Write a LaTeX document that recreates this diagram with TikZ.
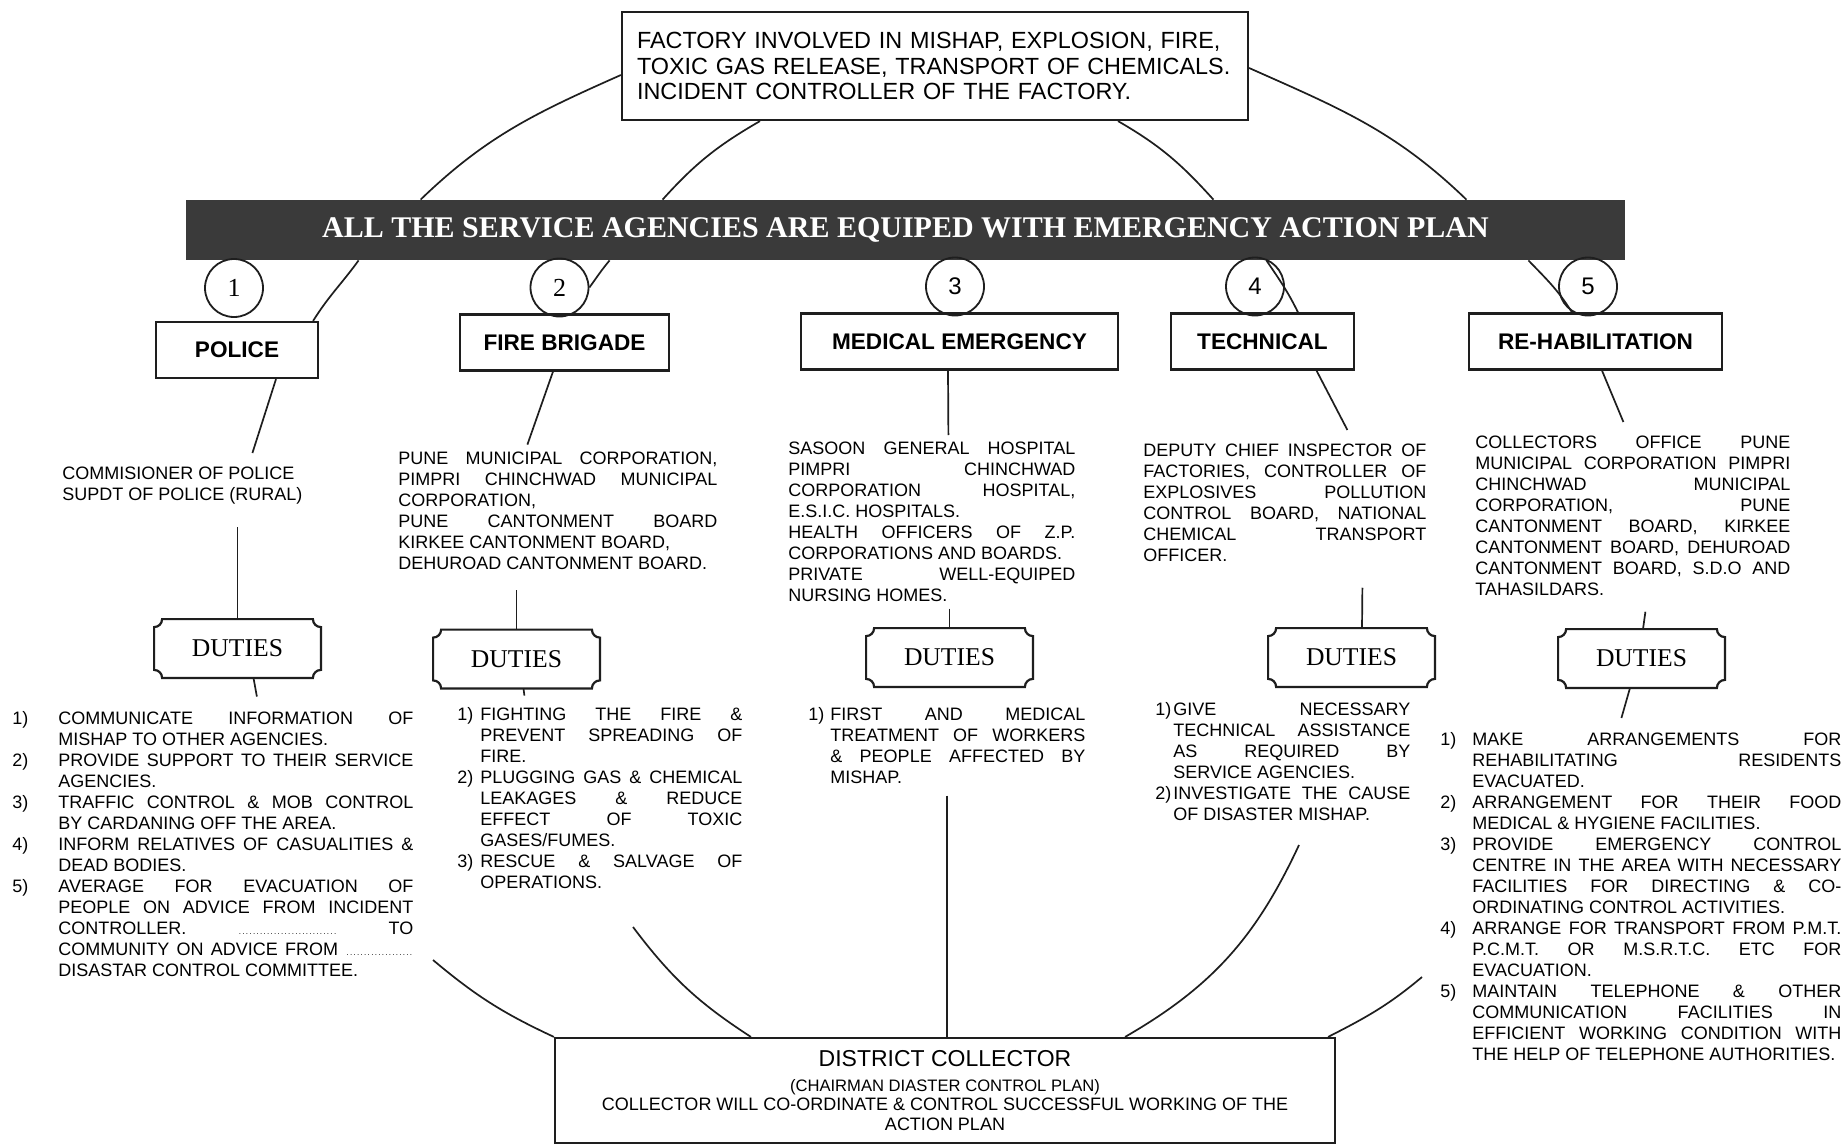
\documentclass[tikz,border=0pt]{standalone}
\usepackage{fontspec}
\setmainfont{Liberation Serif}
\setsansfont{Liberation Sans}
\usepackage{xcolor}
\definecolor{bannergray}{HTML}{3A3A3A}
\definecolor{inkgray}{HTML}{1E1E1E}
\usepackage{tikz}
\usetikzlibrary{positioning}

\newcommand{\listfont}{\sffamily\fontsize{9}{10.5}\selectfont\frenchspacing\hyphenpenalty=10000\exhyphenpenalty=10000 }
\newcommand{\dutyitem}[2]{\par\hangindent=#1\hangafter=1\noindent\makebox[#1][l]{#2}\ignorespaces}
\newcommand{\dotrun}[1]{\makebox[#1]{\fontsize{4}{4}\selectfont\dotfill}}

\begin{document}
\begin{tikzpicture}[
  x=0.5pt, y=0.5pt,
  font=\sffamily,
  link/.style={draw=inkgray, line width=0.85pt},
  box/.style={draw=inkgray, line width=1.1pt, fill=white, align=center, inner sep=0pt},
  headbox/.style={box, minimum height=28pt, font=\sffamily\bfseries\fontsize{11.3}{13}\selectfont},
  numcirc/.style={circle, draw=inkgray, line width=0.9pt, minimum size=29pt, inner sep=0pt,
                  font=\rmfamily\fontsize{13}{13}\selectfont},
  dutybox/.style={minimum width=83pt, minimum height=29pt, inner sep=0pt,
                  font=\rmfamily\fontsize{12.8}{14}\selectfont},
  plaque/.style={draw=inkgray, line width=1.1pt},
  txt/.style={anchor=north west, inner sep=0pt, align=left, font=\listfont}
]
\path[use as bounding box, fill=white] (0,0) rectangle (1847,-1145);

% top and banner
\node[box, text width=298pt, align=left, inner xsep=7.5pt, minimum height=54pt,
      font=\sffamily\fontsize{11.7}{12.75}\selectfont] (factory) at (935,-66)
  {FACTORY INVOLVED IN MISHAP, EXPLOSION, FIRE,\\ TOXIC GAS RELEASE, TRANSPORT OF CHEMICALS.\\ INCIDENT CONTROLLER OF THE FACTORY.};
\node[fill=bannergray, minimum width=719.5pt, minimum height=30pt, inner sep=0pt, text=white,
      font=\rmfamily\bfseries\fontsize{15}{18}\selectfont] (banner) at (905.5,-230)
  {ALL THE SERVICE AGENCIES ARE EQUIPED WITH EMERGENCY ACTION PLAN};

% agencies
\node[headbox, minimum width=81pt]    (police)    at (237,-350)    {POLICE};
\node[headbox, minimum width=104.5pt] (fire)      at (564.5,-342.5) {FIRE BRIGADE};
\node[headbox, minimum width=158.5pt] (medical)   at (959.5,-341.5) {MEDICAL EMERGENCY};
\node[headbox, minimum width=91.5pt]  (technical) at (1262.5,-341.5) {TECHNICAL};
\node[headbox, minimum width=126.5pt] (rehab)     at (1595.5,-341.5) {RE-HABILITATION};

\node[numcirc, above=1.5pt of police, xshift=-1.5pt]   (c1) {1};
\node[numcirc, above=-2pt of fire, xshift=-2.5pt]      (c2) {2};
\node[numcirc, above=-2pt of medical, xshift=-2.25pt, font=\sffamily\fontsize{12}{12}\selectfont] (c3) {3};
\node[numcirc, above=-2pt of technical, xshift=-3.75pt, font=\sffamily\fontsize{12}{12}\selectfont] (c4) {4};
\node[numcirc, above=-2pt of rehab, xshift=-3.75pt, font=\sffamily\fontsize{12}{12}\selectfont] (c5) {5};

% who is called
\node[txt] (policeorg) at (62,-467) {COMMISIONER OF POLICE\\SUPDT OF POLICE (RURAL)};
\node[txt] (fireorg) at (398,-451.6) {\parbox[t]{159.5pt}{PUNE MUNICIPAL CORPORATION,\linebreak
  PIMPRI CHINCHWAD MUNICIPAL\linebreak CORPORATION,\par PUNE CANTONMENT BOARD\linebreak
  KIRKEE CANTONMENT BOARD,\par DEHUROAD CANTONMENT BOARD.}};
\node[txt] (medorg) at (788,-441.6) {\parbox[t]{143.5pt}{SASOON GENERAL HOSPITAL\linebreak
  PIMPRI CHINCHWAD\linebreak CORPORATION HOSPITAL,\linebreak E.S.I.C. HOSPITALS.\par
  HEALTH OFFICERS OF Z.P.\linebreak CORPORATIONS AND BOARDS.\par
  PRIVATE WELL-EQUIPED\linebreak NURSING HOMES.}};
\node[txt] (techorg) at (1143,-443.6) {\parbox[t]{141.5pt}{DEPUTY CHIEF INSPECTOR OF\linebreak
  FACTORIES, CONTROLLER OF\linebreak EXPLOSIVES POLLUTION\linebreak CONTROL BOARD, NATIONAL\linebreak
  CHEMICAL TRANSPORT\linebreak OFFICER.}};
\node[txt] (rehaborg) at (1475,-435.6) {\parbox[t]{157.5pt}{COLLECTORS OFFICE PUNE\linebreak
  MUNICIPAL CORPORATION PIMPRI\linebreak CHINCHWAD MUNICIPAL\linebreak CORPORATION, PUNE\linebreak
  CANTONMENT BOARD, KIRKEE\linebreak CANTONMENT BOARD, DEHUROAD\linebreak
  CANTONMENT BOARD, S.D.O AND\linebreak TAHASILDARS.}};

% duties
\node[dutybox] (dpolice) at (237.5,-648.5) {DUTIES};
\node[dutybox] (dfire)   at (516.5,-659)   {DUTIES};
\node[dutybox] (dmed)    at (949.5,-657.5) {DUTIES};
\node[dutybox] (dtech)   at (1351.5,-657.5) {DUTIES};
\node[dutybox] (drehab)  at (1641.5,-658.5) {DUTIES};
\foreach \duty in {dpolice,dfire,dmed,dtech,drehab}{
  \draw[plaque] ([xshift=4pt]\duty.north west) -- ([xshift=-4pt]\duty.north east)
    arc[start angle=180, end angle=270, radius=4pt] -- ([yshift=4pt]\duty.south east)
    arc[start angle=90, end angle=180, radius=4pt] -- ([xshift=4pt]\duty.south west)
    arc[start angle=0, end angle=90, radius=4pt] -- ([yshift=-4pt]\duty.north west)
    arc[start angle=270, end angle=360, radius=4pt] -- cycle;
}

\node[txt] (lpolice) at (12,-710.6) {\parbox[t]{200.5pt}{%
  \dutyitem{23pt}{1)}COMMUNICATE INFORMATION OF\linebreak MISHAP TO OTHER AGENCIES.
  \dutyitem{23pt}{2)}PROVIDE SUPPORT TO THEIR SERVICE\linebreak AGENCIES.
  \dutyitem{23pt}{3)}TRAFFIC CONTROL \& MOB CONTROL\linebreak BY CARDANING OFF THE AREA.
  \dutyitem{23pt}{4)}INFORM RELATIVES OF CASUALITIES \&\linebreak DEAD BODIES.
  \dutyitem{23pt}{5)}AVERAGE FOR EVACUATION OF\linebreak PEOPLE ON ADVICE FROM INCIDENT\linebreak
  CONTROLLER. \dotrun{50pt} TO\linebreak COMMUNITY ON ADVICE FROM \dotrun{34pt}\linebreak
  DISASTAR CONTROL COMMITTEE.}};
\node[txt] (lfire) at (457,-706.6) {\parbox[t]{142.5pt}{%
  \dutyitem{11.5pt}{1)}FIGHTING THE FIRE \&\linebreak PREVENT SPREADING OF\linebreak FIRE.
  \dutyitem{11.5pt}{2)}PLUGGING GAS \& CHEMICAL\linebreak LEAKAGES \& REDUCE\linebreak
  EFFECT OF TOXIC\linebreak GASES/FUMES.
  \dutyitem{11.5pt}{3)}RESCUE \& SALVAGE OF\linebreak OPERATIONS.}};
\node[txt] (lmed) at (808,-706.6) {\parbox[t]{138.5pt}{%
  \dutyitem{11pt}{1)}FIRST AND MEDICAL\linebreak TREATMENT OF WORKERS\linebreak
  \& PEOPLE AFFECTED BY\linebreak MISHAP.}};
\node[txt] (ltech) at (1155,-701.6) {\parbox[t]{127.5pt}{%
  \dutyitem{9pt}{1)}GIVE NECESSARY\linebreak TECHNICAL ASSISTANCE\linebreak
  AS REQUIRED BY\linebreak SERVICE AGENCIES.
  \dutyitem{9pt}{2)}INVESTIGATE THE CAUSE\linebreak OF DISASTER MISHAP.}};
\node[txt] (lrehab) at (1440,-731.6) {\parbox[t]{200.5pt}{%
  \dutyitem{16pt}{1)}MAKE ARRANGEMENTS FOR\linebreak REHABILITATING RESIDENTS\linebreak EVACUATED.
  \dutyitem{16pt}{2)}ARRANGEMENT FOR THEIR FOOD\linebreak MEDICAL \& HYGIENE FACILITIES.
  \dutyitem{16pt}{3)}PROVIDE EMERGENCY CONTROL\linebreak CENTRE IN THE AREA WITH NECESSARY\linebreak
  FACILITIES FOR DIRECTING \& CO-\linebreak ORDINATING CONTROL ACTIVITIES.
  \dutyitem{16pt}{4)}ARRANGE FOR TRANSPORT FROM P.M.T.\linebreak P.C.M.T. OR M.S.R.T.C. ETC FOR\linebreak
  EVACUATION.
  \dutyitem{16pt}{5)}MAINTAIN TELEPHONE \& OTHER\linebreak COMMUNICATION FACILITIES IN\linebreak
  EFFICIENT WORKING CONDITION WITH\linebreak THE HELP OF TELEPHONE AUTHORITIES.}};

% collector
\node[box, minimum width=390pt, minimum height=52.5pt, font=\sffamily\fontsize{9}{10}\selectfont]
  (collector) at (945,-1090.5)
  {{\fontsize{11.5}{13}\selectfont DISTRICT COLLECTOR}\\[2.5pt]
   {\fontsize{8.3}{9.5}\selectfont (CHAIRMAN DIASTER CONTROL PLAN)}\\[-0.5pt]
   COLLECTOR WILL CO-ORDINATE \& CONTROL SUCCESSFUL WORKING OF THE\\ ACTION PLAN};

% outer ring
\coordinate (olow)  at (433,-960);
\coordinate (orlow) at (1422,-977);
\draw[link] ([yshift=-4.5pt]factory.west) to[out=204, in=44] ([xshift=117.5pt]banner.north west);
\draw[link] ([xshift=86.5pt]banner.south west) to[out=234, in=58] ([xshift=-3pt]police.north east);
\draw[link] ([yshift=-1pt]factory.east) to[out=-24, in=136] ([xshift=-79.5pt]banner.north east);
\draw[link] ([xshift=-48.5pt]banner.south east) to[out=-46, in=122] ([xshift=-11.75pt]rehab.north);
\draw[link] (olow) to[out=-40, in=155] (collector.north west);
\draw[link] (orlow) to[out=220, in=27] ([xshift=-4pt]collector.north east);

% inner ring
\coordinate (ilow)  at (633,-927);
\coordinate (irlow) at (1299,-845);
\draw[link] ([xshift=-87.5pt]factory.south) to[out=210, in=48] ([xshift=238.5pt]banner.north west);
\draw[link] ([xshift=212pt]banner.south west) to[out=230, in=54] (c2.east);
\draw[link] ([xshift=91.5pt]factory.south) to[out=-30, in=132] ([xshift=-206pt]banner.north east);
\draw[link] ([xshift=-179.5pt]banner.south east) to[out=-56, in=116] ([xshift=17.75pt]technical.north);
\draw[link] (ilow) to[out=-53, in=147] ([xshift=98.5pt]collector.north west);
\draw[link] (irlow) to[out=245, in=30] ([xshift=-105.5pt]collector.north east);

% columns
\draw[link] ([xshift=19.5pt]police.south) -- ([xshift=35pt,yshift=7pt]policeorg.north);
\draw[link, shorten <=11pt] (policeorg.south -| dpolice.north) -- (dpolice.north);
\draw[link] ([xshift=8pt]dpolice.south) -- ([xshift=22pt,yshift=7pt]lpolice.north);

\draw[link] ([xshift=-5.75pt]fire.south) -- ([xshift=-15.25pt,yshift=3.5pt]fireorg.north);
\draw[link, shorten <=10pt] (fireorg.south -| dfire.north) -- (dfire.north);
\draw[link] ([xshift=3.5pt]dfire.south) -- ([xshift=-37.75pt,yshift=5.5pt]lfire.north);

\draw[link] ([xshift=-5.75pt]medical.south) -- ([xshift=8.25pt,yshift=3.3pt]medorg.north);
\draw[link, shorten <=3.3pt] (medorg.south -| dmed.north) -- (dmed.north);
\draw[link, shorten <=6pt] (lmed.south) -- (lmed.south |- collector.north);

\draw[link] ([xshift=27pt]technical.south) -- ([xshift=31.25pt,yshift=6.8pt]techorg.north);
\draw[link] ([xshift=38.75pt,yshift=-12.8pt]techorg.south) -- ([xshift=5.25pt]dtech.north);

\draw[link] ([xshift=3.25pt]rehab.south) -- ([xshift=-4.75pt,yshift=6.8pt]rehaborg.north);
\draw[link] ([xshift=6.25pt,yshift=-7.8pt]rehaborg.south) -- ([xshift=0.75pt]drehab.north);
\draw[link] ([xshift=-5.75pt]drehab.south) -- ([xshift=-9.75pt,yshift=6.8pt]lrehab.north);
\end{tikzpicture}
\end{document}
